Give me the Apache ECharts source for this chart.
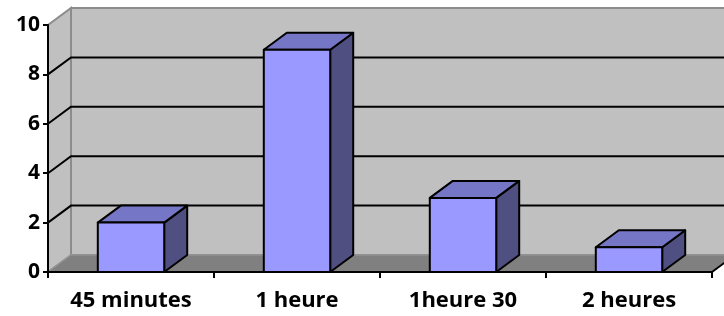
<!DOCTYPE html>
<html>
<head>
<meta charset="utf-8">
<script src="https://cdn.jsdelivr.net/npm/echarts@6/dist/echarts.min.js"></script>
<style>
  html, body { margin: 0; padding: 0; background: #fff; }
  #chart { width: 724px; height: 316px; }
</style>
</head>
<body>
<div id="chart"></div>
<script>
var categories = ['45 minutes', '1 heure', '1heure 30', '2 heures'];
var values = [2, 9, 3, 1];
var yTicks = [0, 2, 4, 6, 8, 10];

// depth of the fake 3d box
var DX = 23, DY = -17;

var chart = echarts.init(document.getElementById('chart'), null, { renderer: 'canvas' });

function wallsItem(params, api) {
  var cs = params.coordSys;
  var x0 = cs.x, x1 = cs.x + cs.width;
  var yb = api.coord([0, 0])[1];
  var yt = api.coord([0, 10])[1];
  var kids = [];
  // left wall
  kids.push({ type: 'polygon', shape: { points: [[x0, yb], [x0 + DX, yb + DY], [x0 + DX, yt + DY], [x0, yt]] },
    style: { fill: '#c0c0c0', stroke: '#8c8c8c', lineWidth: 2 } });
  // back wall
  kids.push({ type: 'rect', shape: { x: x0 + DX, y: yt + DY, width: x1 - x0, height: yb - yt },
    style: { fill: '#c0c0c0', stroke: '#8c8c8c', lineWidth: 2 } });
  // floor
  kids.push({ type: 'polygon', shape: { points: [[x0, yb], [x1, yb], [x1 + DX, yb + DY], [x0 + DX, yb + DY]] },
    style: { fill: '#808080', stroke: '#999999', lineWidth: 1 } });
  // grid lines
  yTicks.forEach(function (t) {
    if (t === 0 || t === 10) return;
    var y = api.coord([0, t])[1];
    kids.push({ type: 'polyline', shape: { points: [[x0, y], [x0 + DX, y + DY], [x1 + DX, y + DY]] },
      style: { stroke: '#000', lineWidth: 2, fill: null } });
  });
  kids.push({ type: 'line', shape: { x1: x1, y1: yb, x2: x1 + DX, y2: yb + DY },
    style: { stroke: '#000', lineWidth: 2 } });
  return { type: 'group', children: kids };
}

function barItem(params, api) {
  var i = api.value(0), v = api.value(1);
  var top = api.coord([i, v]);
  var base = api.coord([i, 0]);
  var w = api.size([1, 0])[0] * 0.4;
  var l = top[0] - w / 2, r = top[0] + w / 2;
  var yt = top[1], yb = base[1];
  var st = { stroke: '#000', lineWidth: 2, lineJoin: 'round' };
  return {
    type: 'group',
    children: [
      { type: 'polygon', shape: { points: [[r, yb], [r + DX, yb + DY], [r + DX, yt + DY], [r, yt]] },
        style: Object.assign({ fill: '#4f4f82' }, st) },
      { type: 'polygon', shape: { points: [[l, yt], [r, yt], [r + DX, yt + DY], [l + DX, yt + DY]] },
        style: Object.assign({ fill: '#7676c6' }, st) },
      { type: 'rect', shape: { x: l, y: yt, width: w, height: yb - yt },
        style: Object.assign({ fill: '#9999ff' }, st) }
    ]
  };
}

var option = {
  animation: false,
  grid: { left: 48, right: 12, top: 25, bottom: 44 },
  xAxis: {
    type: 'category',
    data: categories,
    axisLine: { lineStyle: { color: '#000', width: 2 } },
    axisTick: { show: true, length: 6, lineStyle: { color: '#000', width: 2 } },
    axisLabel: { color: '#000', fontSize: 22, fontWeight: 'bold', fontFamily: 'Open Sans', margin: 18 },
    z: 10
  },
  yAxis: {
    type: 'value',
    min: 0, max: 10, interval: 2,
    splitLine: { show: false },
    axisLine: { show: true, lineStyle: { color: '#000', width: 2 } },
    axisTick: { show: true, length: 5, lineStyle: { color: '#000', width: 2 } },
    axisLabel: { color: '#000', fontSize: 21, fontWeight: 'bold', fontFamily: 'Open Sans', margin: 8 },
    z: 10
  },
  series: [
    { type: 'custom', renderItem: wallsItem, data: [[0, 0]], z: 1, silent: true },
    { type: 'custom', renderItem: barItem, data: values.map(function (v, i) { return [i, v]; }), z: 2 }
  ]
};

chart.setOption(option);
</script>
</body>
</html>
